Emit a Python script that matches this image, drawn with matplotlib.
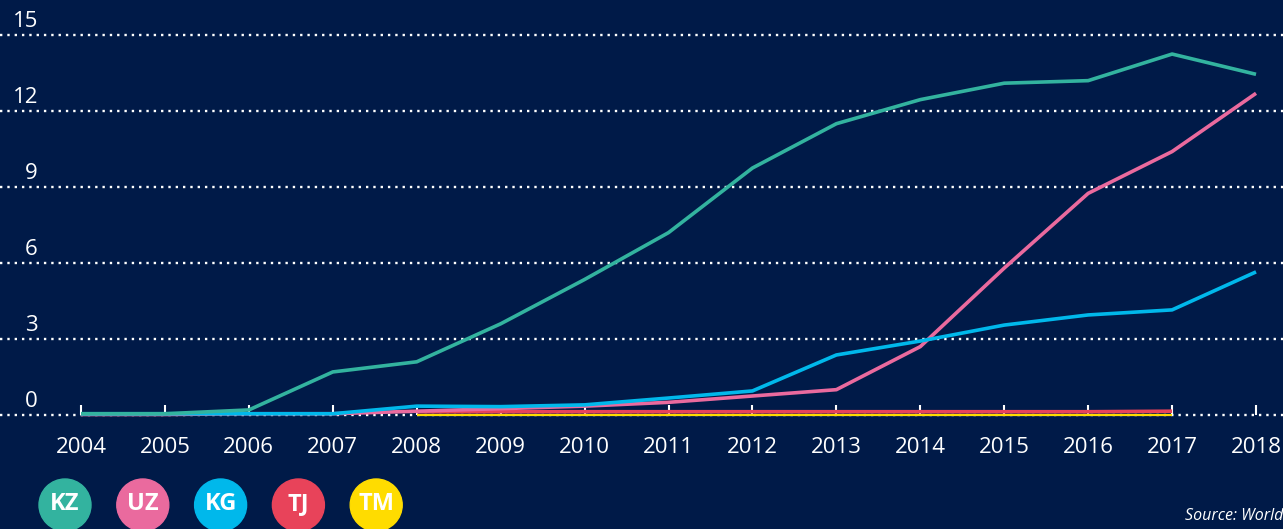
import matplotlib.pyplot as plt
import matplotlib.patches as patches

# data
years = list(range(2004, 2019))
kz = [0.05, 0.05, 0.2, 1.7, 2.1, 3.6, 5.35, 7.2, 9.75, 11.5, 12.45, 13.1, 13.2, 14.25, 13.45]
uz = [0.02, 0.02, 0.05, 0.05, 0.15, 0.25, 0.35, 0.5, 0.75, 1.0, 2.7, 5.8, 8.75, 10.4, 12.7]
kg = [0.05, 0.05, 0.05, 0.05, 0.35, 0.33, 0.4, 0.67, 0.95, 2.37, 2.92, 3.55, 3.95, 4.15, 5.65]
years_tj = list(range(2008, 2018))
tj = [0.08, 0.08, 0.08, 0.08, 0.08, 0.08, 0.08, 0.08, 0.08, 0.1]
years_tm = list(range(2008, 2018))
tm = [0.0] * 10

codes = ["KZ", "UZ", "KG", "TJ", "TM"]
colors = ["#33b39f", "#ea6a9e", "#00b8eb", "#e8435a", "#ffdc00"]
y_ticks = [0, 3, 6, 9, 12, 15]

BG = "#001a48"
W, H = 1283, 529
plt.rcParams["font.family"] = ["Open Sans", "DejaVu Sans"]

fig = plt.figure(figsize=(W / 100, H / 100), dpi=100, facecolor=BG)

# main axes: full width, from top down to pixel 420
ax_bottom = 420
ax = fig.add_axes([0, 1 - ax_bottom / H, 1, ax_bottom / H])
ax.set_facecolor(BG)
px_year = 83.93
px_unit = 25.33
ax.set_xlim(2004 - 81 / px_year, 2004 + (W - 81) / px_year)
ax.set_ylim(-(ax_bottom - 415) / px_unit, 415 / px_unit)
for s in ax.spines.values():
    s.set_visible(False)

for v in y_ticks:
    ax.axhline(v, color="white", lw=1.7, ls=(0, (1, 2.1)), zorder=1)
    ax.text(2004 - 43 / px_year, v + 0.12, str(v), color="white", fontsize=16,
            ha="right", va="bottom")

ax.vlines(years, 0, 0.4, color="white", lw=1.5, zorder=2)

lw = 2.6
ax.plot(years_tm, tm, color=colors[4], lw=1.6, zorder=3, clip_on=False, solid_capstyle="butt")
ax.plot(years_tj, [v + 0.05 for v in tj], color=colors[3], lw=lw, zorder=4, clip_on=False,
        solid_capstyle="butt")
ax.plot(years, uz, color=colors[1], lw=lw, zorder=5, clip_on=False, solid_capstyle="butt")
ax.plot(years, kg, color=colors[2], lw=lw, zorder=6, clip_on=False, solid_capstyle="butt")
ax.plot(years, kz, color=colors[0], lw=lw, zorder=7, clip_on=False, solid_capstyle="butt")

ax.set_yticks([])
ax.set_xticks(years)
ax.set_xticklabels([str(y) for y in years])
ax.tick_params(axis="x", length=0, pad=12, labelcolor="white", labelsize=16)

# legend badges in pixel coordinates
lax = fig.add_axes([0, 0, 1, 1])
lax.set_xlim(0, W)
lax.set_ylim(H, 0)
lax.axis("off")
for i, (code, c) in enumerate(zip(codes, colors)):
    cx = 65 + i * 77.8
    lax.add_patch(patches.Circle((cx, 505), 26, color=c))
    lax.text(cx, 504, code, color="white", fontsize=17, fontweight="bold",
             ha="center", va="center")

# the reference itself shows this credit clipped at the right edge
lax.text(1185, 516, "Source: World Bank", color="white", fontsize=11.5,
         style="italic", ha="left", va="center")

fig.savefig("out.png", dpi=100, facecolor=BG)
